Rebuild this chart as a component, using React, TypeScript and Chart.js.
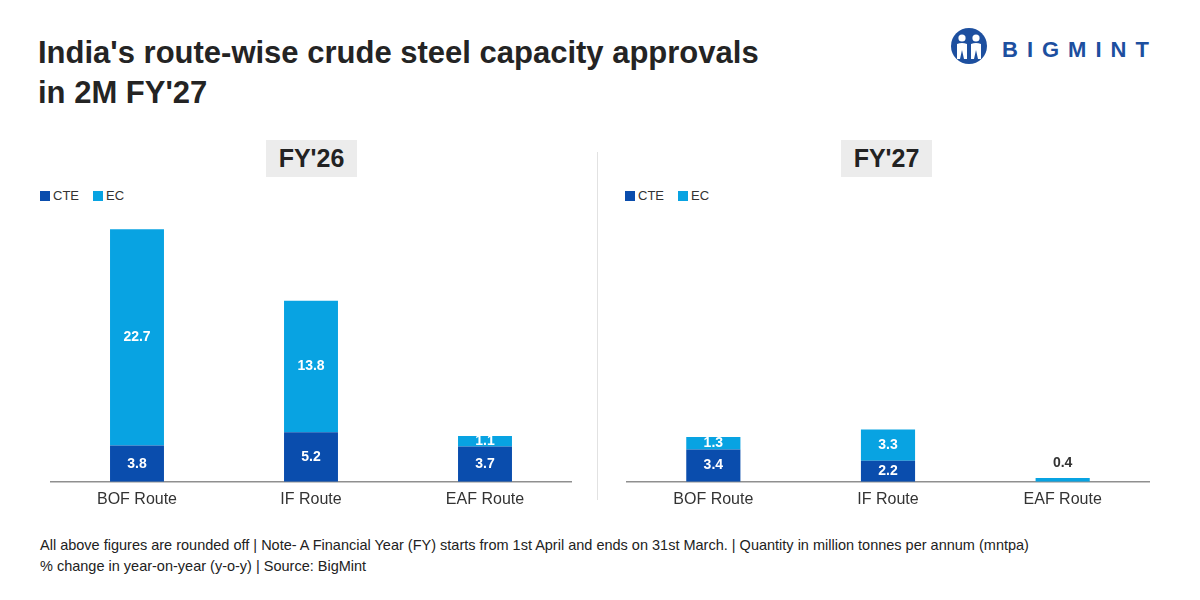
import React, { useEffect, useRef } from "react";
import { Chart, registerables } from "chart.js";

Chart.register(...registerables);

// Route categories and approval volumes (million tonnes per annum)
const routes = ["BOF Route", "IF Route", "EAF Route"];
const seriesNames = ["CTE", "EC"];
const seriesColors = ["#0a4dad", "#08a3e2"];
const fy26Cte = [3.8, 5.2, 3.7];
const fy26Ec = [22.7, 13.8, 1.1];
const fy27Cte = [3.4, 2.2, 0];
const fy27Ec = [1.3, 3.3, 0.4];
const panelTitles = ["FY'26", "FY'27"];
const yMax = 28;

const titleLines = ["India's route-wise crude steel capacity approvals", "in 2M FY'27"];
const footerLines = [
  "All above figures are rounded off | Note- A Financial Year (FY) starts from 1st April and ends on 31st March. | Quantity in million tonnes per annum (mntpa)",
  "% change in year-on-year (y-o-y) | Source: BigMint",
];

const FONT = "'Liberation Sans', Arial, sans-serif";

// Writes each segment's value inside it; very thin segments get the value above.
const segmentLabels = {
  id: "segmentLabels",
  afterDatasetsDraw(chart: Chart) {
    const ctx = chart.ctx;
    ctx.save();
    ctx.font = `bold 14px ${FONT}`;
    ctx.textAlign = "center";
    ctx.textBaseline = "middle";
    chart.data.datasets.forEach((ds, di) => {
      const meta = chart.getDatasetMeta(di);
      meta.data.forEach((el: any, i: number) => {
        const v = ds.data[i] as number;
        if (!v) return;
        const { x, y, base } = el.getProps(["x", "y", "base"], true);
        const h = Math.abs(base - y);
        const text = v.toFixed(1);
        if (h < 6) {
          ctx.fillStyle = "#333333";
          ctx.fillText(text, x, y - 15);
        } else {
          ctx.fillStyle = "#ffffff";
          ctx.fillText(text, x, (y + base) / 2);
        }
      });
    });
    ctx.restore();
  },
};

function RouteChart({ cte, ec }: { cte: number[]; ec: number[] }) {
  const ref = useRef<HTMLCanvasElement>(null);
  useEffect(() => {
    if (!ref.current) return;
    const chart = new Chart(ref.current, {
      type: "bar",
      data: {
        labels: routes,
        datasets: [
          { label: seriesNames[0], data: cte, backgroundColor: seriesColors[0] },
          { label: seriesNames[1], data: ec, backgroundColor: seriesColors[1] },
        ],
      },
      options: {
        responsive: true,
        maintainAspectRatio: false,
        animation: false,
        layout: { padding: 0 },
        datasets: { bar: { barPercentage: 0.31, categoryPercentage: 1 } },
        plugins: { legend: { display: false }, tooltip: { enabled: false } },
        scales: {
          x: {
            stacked: true,
            grid: { display: false, drawTicks: false },
            border: { display: true, color: "#8f8f8f", width: 1.5 },
            ticks: { color: "#333333", font: { family: FONT, size: 16 }, padding: 8 },
          },
          y: { stacked: true, display: false, min: 0, max: yMax },
        },
      },
      plugins: [segmentLabels],
    });
    return () => chart.destroy();
  }, [cte, ec]);
  return <canvas ref={ref} />;
}

function Legend({ left }: { left: number }) {
  return (
    <div style={{ position: "absolute", left, top: 188, display: "flex", alignItems: "center", fontFamily: FONT, fontSize: 13, color: "#333" }}>
      {seriesNames.map((n, i) => (
        <div key={n} style={{ display: "flex", alignItems: "center", marginRight: 14 }}>
          <span style={{ width: 10, height: 10, background: seriesColors[i], display: "inline-block", marginRight: 3 }} />
          <span style={{ lineHeight: "16px" }}>{n}</span>
        </div>
      ))}
    </div>
  );
}

function Badge({ left, text }: { left: number; text: string }) {
  return (
    <div style={{ position: "absolute", left, top: 140, width: 91, height: 37, background: "#ececec", display: "flex", alignItems: "center", justifyContent: "center", fontFamily: FONT, fontWeight: 700, fontSize: 25, color: "#222" }}>
      {text}
    </div>
  );
}

function Logo() {
  return (
    <div style={{ position: "absolute", left: 951, top: 28, height: 36, display: "flex", alignItems: "center" }}>
      <svg width="36" height="36" viewBox="-18 -18 36 36">
        <circle cx="0" cy="0" r="18" fill="#1d4f9f" />
        <circle cx="-7" cy="-8" r="3.6" fill="#fff" />
        <circle cx="7" cy="-8" r="3.6" fill="#fff" />
        <path d="M-12,-2 Q-7,-4 -2,-2 L-2,13 L-5,13 L-7,4 L-9,13 L-12,13 Z" fill="#fff" />
        <path d="M2,-2 Q7,-4 12,-2 L12,13 L9,13 L7,4 L5,13 L2,13 Z" fill="#fff" />
      </svg>
      <span style={{ marginLeft: 15, marginTop: 8, fontFamily: FONT, fontWeight: 700, fontSize: 22, letterSpacing: 9, color: "#1d4f9f" }}>BIGMINT</span>
    </div>
  );
}

export default function App() {
  return (
    <div style={{ position: "absolute", left: 0, top: 0, width: 1200, height: 600, background: "#fff", overflow: "hidden" }}>
      <div style={{ position: "absolute", left: 38, top: 33, fontFamily: FONT, fontWeight: 700, fontSize: 31, lineHeight: "40px", color: "#242424" }}>
        {titleLines.map((l) => (
          <div key={l}>{l}</div>
        ))}
      </div>
      <Logo />
      <Badge left={266} text={panelTitles[0]} />
      <Badge left={841} text={panelTitles[1]} />
      <Legend left={40} />
      <Legend left={625} />
      <div style={{ position: "absolute", left: 597, top: 152, width: 1, height: 348, background: "#e2e2e2" }} />
      <div style={{ position: "absolute", left: 50, top: 215, width: 522, height: 302 }}>
        <RouteChart cte={fy26Cte} ec={fy26Ec} />
      </div>
      <div style={{ position: "absolute", left: 626, top: 215, width: 524, height: 302 }}>
        <RouteChart cte={fy27Cte} ec={fy27Ec} />
      </div>
      <div style={{ position: "absolute", left: 40, top: 535, fontFamily: FONT, fontSize: 14.5, lineHeight: "21px", color: "#222" }}>
        {footerLines.map((l) => (
          <div key={l}>{l}</div>
        ))}
      </div>
    </div>
  );
}
